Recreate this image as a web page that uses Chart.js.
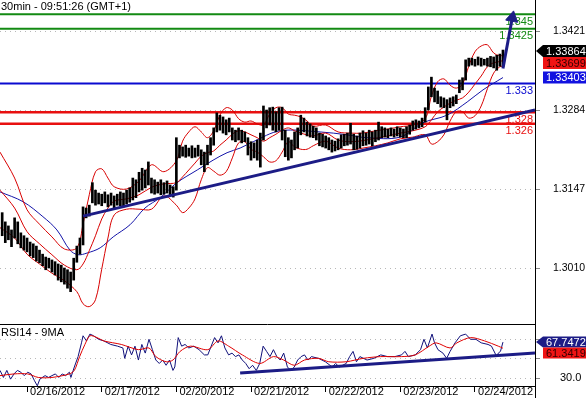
<!DOCTYPE html>
<html>
<head>
<meta charset="utf-8">
<script src="https://cdn.jsdelivr.net/npm/chart.js@4.4.1/dist/chart.umd.min.js"></script>
<style>
  html, body { margin: 0; padding: 0; background: #fff; }
  #wrap { position: relative; width: 586px; height: 398px; overflow: hidden; }
  #priceChart { position: absolute; left: 0; top: 0; }
  #rsiChart { position: absolute; left: 0; top: 324px; }
</style>
</head>
<body>
<div id="wrap">
  <canvas id="priceChart" width="586" height="324"></canvas>
  <canvas id="rsiChart" width="586" height="74"></canvas>
</div>
<script>
const chartTitle = '30min - 09:51:26 (GMT+1)';
const rsiTitle = 'RSI14 - 9MA';

// x = trading hours since 02/16/2012 00:00 (weekend left out)
const xMin = -8.7;
const xMax = 163.3;
const dayHours = [0, 24, 48, 72, 96, 120, 144];
const dayLabels = ['02/16/2012', '02/17/2012', '02/20/2012', '02/21/2012', '02/22/2012', '02/23/2012', '02/24/2012'];

const priceMin = 1.29129;
const priceMax = 1.34748;
const priceTicks = [1.3010, 1.3147, 1.3284, 1.3421];

const rsiMin = 21.6;
const rsiMax = 86.8;
const rsiTicks = [30, 50, 70];
const rsiTickLabels = ['30.0', '', ''];

// hourly bars, first one at hour -8
const firstBarHour = -8;
const barHigh = [
  1.3106, 1.3090, 1.3083, 1.3076, 1.3097, 1.3090, 1.3071, 1.3066,
  1.3062, 1.3055, 1.3052, 1.3048, 1.3041, 1.3034, 1.3029, 1.3027, 1.3024, 1.3021, 1.3017, 1.3015,
  1.3010, 1.3007, 1.3003, 1.3027, 1.3048, 1.3062, 1.3116, 1.3114, 1.3119, 1.3158, 1.3145, 1.3140,
  1.3138, 1.3142, 1.3137, 1.3140, 1.3135, 1.3138, 1.3142, 1.3140, 1.3145, 1.3149, 1.3166, 1.3163,
  1.3176, 1.3183, 1.3180, 1.3194, 1.3166, 1.3163, 1.3159, 1.3163, 1.3158, 1.3161, 1.3154, 1.3151,
  1.3236, 1.3223, 1.3220, 1.3223, 1.3218, 1.3222, 1.3218, 1.3223, 1.3215, 1.3211, 1.3223, 1.3236,
  1.3253, 1.3279, 1.3275, 1.3272, 1.3267, 1.3270, 1.3253, 1.3249, 1.3253, 1.3249, 1.3246, 1.3236,
  1.3229, 1.3227, 1.3232, 1.3244, 1.3291, 1.3284, 1.3288, 1.3289, 1.3281, 1.3288, 1.3289, 1.3249,
  1.3236, 1.3232, 1.3246, 1.3253, 1.3275, 1.3270, 1.3263, 1.3260, 1.3256, 1.3253, 1.3244, 1.3242,
  1.3239, 1.3236, 1.3232, 1.3230, 1.3234, 1.3241, 1.3242, 1.3244, 1.3261, 1.3242, 1.3239, 1.3244,
  1.3248, 1.3244, 1.3249, 1.3246, 1.3249, 1.3263, 1.3255, 1.3253, 1.3251, 1.3253, 1.3251, 1.3255,
  1.3253, 1.3251, 1.3255, 1.3258, 1.3265, 1.3267, 1.3265, 1.3270, 1.3288, 1.3324, 1.3341, 1.3322,
  1.3317, 1.3307, 1.3305, 1.3302, 1.3305, 1.3307, 1.3310, 1.3336, 1.3340, 1.3371, 1.3374, 1.3374,
  1.3372, 1.3376, 1.3374, 1.3372, 1.3374, 1.3377, 1.3376, 1.3379, 1.3381, 1.3388
];
const barLow = [
  1.3066, 1.3054, 1.3059, 1.3047, 1.3062, 1.3052, 1.3045, 1.3041,
  1.3038, 1.3031, 1.3028, 1.3022, 1.3019, 1.3014, 1.3007, 1.3010, 1.3003, 1.2998, 1.2989, 1.2986,
  1.2982, 1.2975, 1.2969, 1.2989, 1.3020, 1.3034, 1.3050, 1.3097, 1.3100, 1.3123, 1.3119, 1.3121,
  1.3118, 1.3123, 1.3116, 1.3119, 1.3114, 1.3119, 1.3118, 1.3116, 1.3121, 1.3124, 1.3128, 1.3132,
  1.3142, 1.3145, 1.3149, 1.3154, 1.3140, 1.3138, 1.3140, 1.3137, 1.3138, 1.3140, 1.3135, 1.3133,
  1.3145, 1.3201, 1.3204, 1.3202, 1.3204, 1.3201, 1.3202, 1.3204, 1.3189, 1.3177, 1.3189, 1.3206,
  1.3223, 1.3246, 1.3249, 1.3244, 1.3241, 1.3246, 1.3232, 1.3229, 1.3232, 1.3227, 1.3229, 1.3206,
  1.3197, 1.3201, 1.3197, 1.3185, 1.3232, 1.3253, 1.3258, 1.3249, 1.3246, 1.3249, 1.3232, 1.3203,
  1.3197, 1.3201, 1.3215, 1.3218, 1.3241, 1.3246, 1.3239, 1.3237, 1.3236, 1.3232, 1.3222, 1.3220,
  1.3218, 1.3215, 1.3211, 1.3213, 1.3215, 1.3218, 1.3222, 1.3223, 1.3225, 1.3215, 1.3216, 1.3218,
  1.3222, 1.3223, 1.3225, 1.3222, 1.3229, 1.3232, 1.3236, 1.3237, 1.3236, 1.3239, 1.3237, 1.3239,
  1.3237, 1.3236, 1.3236, 1.3242, 1.3249, 1.3251, 1.3253, 1.3255, 1.3263, 1.3284, 1.3307, 1.3298,
  1.3295, 1.3289, 1.3288, 1.3267, 1.3288, 1.3291, 1.3295, 1.3314, 1.3319, 1.3336, 1.3360, 1.3362,
  1.3360, 1.3362, 1.3360, 1.3362, 1.3360, 1.3359, 1.3357, 1.3353, 1.3360, 1.3359
];
const lastClose = 1.33864;

// Bollinger bands
const bbHours = [-8.7, -4, 0, 4, 8, 12, 16, 18, 20, 22, 24, 26, 28, 32, 36, 40, 44, 48, 50, 52, 54, 56, 58, 60,
  62, 64, 66, 68, 70, 72, 74, 76, 78, 80, 82, 84, 86, 88, 90, 92, 96, 100, 104, 108, 112, 116, 120, 124,
  128, 130, 132, 134, 136, 138, 140, 142, 144, 146, 148, 150, 152, 153];
const bbUpper = [1.3211, 1.3166, 1.3111, 1.3086, 1.3064, 1.3043, 1.3045, 1.3086, 1.3137, 1.3177, 1.3182, 1.3166,
  1.3151, 1.3147, 1.3161, 1.3189, 1.3177, 1.3196, 1.3230, 1.3246, 1.3255, 1.3246, 1.3236, 1.3248,
  1.3275, 1.3288, 1.3284, 1.3269, 1.3263, 1.3265, 1.3260, 1.3258, 1.3277, 1.3288, 1.3288, 1.3277,
  1.3275, 1.3272, 1.3265, 1.3256, 1.3258, 1.3246, 1.3244, 1.3244, 1.3248, 1.3251, 1.3255, 1.3258,
  1.3269, 1.3308, 1.3333, 1.3338, 1.3327, 1.3322, 1.3329, 1.3360, 1.3385, 1.3395, 1.3397, 1.3383,
  1.3378, 1.3379];
const bbMiddle = [1.3145, 1.3114, 1.3073, 1.3052, 1.3033, 1.3015, 1.3007, 1.3017, 1.3040, 1.3066, 1.3095, 1.3114,
  1.3126, 1.3130, 1.3137, 1.3150, 1.3156, 1.3158, 1.3168, 1.3180, 1.3192, 1.3204, 1.3210, 1.3213,
  1.3223, 1.3232, 1.3242, 1.3248, 1.3246, 1.3241, 1.3236, 1.3230, 1.3236, 1.3242, 1.3249, 1.3253,
  1.3248, 1.3244, 1.3241, 1.3239, 1.3244, 1.3232, 1.3229, 1.3231, 1.3235, 1.3239, 1.3244, 1.3248,
  1.3255, 1.3267, 1.3281, 1.3289, 1.3296, 1.3301, 1.3305, 1.3315, 1.3329, 1.3343, 1.3359, 1.3366,
  1.3368, 1.33699];
const bbLower = [1.3080, 1.3062, 1.3034, 1.3017, 1.3001, 1.2988, 1.2969, 1.2948, 1.2943, 1.2955, 1.3008, 1.3062,
  1.3102, 1.3112, 1.3112, 1.3112, 1.3135, 1.3119, 1.3106, 1.3114, 1.3130, 1.3163, 1.3184, 1.3178,
  1.3171, 1.3177, 1.3201, 1.3227, 1.3229, 1.3216, 1.3211, 1.3203, 1.3194, 1.3196, 1.3211, 1.3229,
  1.3220, 1.3216, 1.3216, 1.3222, 1.3230, 1.3218, 1.3215, 1.3218, 1.3222, 1.3227, 1.3234, 1.3237,
  1.3241, 1.3225, 1.3229, 1.3241, 1.3265, 1.3281, 1.3281, 1.3270, 1.3274, 1.3291, 1.3321, 1.3348,
  1.3359, 1.3360];

// blue moving average
const maHours = [-8.7, -1.3, 5.1, 9.6, 13.8, 16.4, 19.3, 23.5, 27.7, 33.1, 37.9, 42.8, 48.2, 54.7, 59.8, 64.3,
  68.5, 72.7, 81.4, 94.2, 102.9, 109.3, 119.9, 127.3, 135, 141.5, 146.6, 153];
const maValues = [1.3142, 1.3125, 1.3099, 1.3076, 1.3041, 1.3033, 1.3036, 1.3045, 1.3064, 1.3085, 1.3114, 1.3132,
  1.3158, 1.3180, 1.3197, 1.3210, 1.3218, 1.3229, 1.3248, 1.3246, 1.3241, 1.3236, 1.3237, 1.3262,
  1.3275, 1.3298, 1.3319, 1.33403];

// support / resistance levels
const levelValues = [1.345, 1.3425, 1.333, 1.328, 1.326];
const levelLabels = ['1.345', '1.3425', '1.333', '1.328', '1.326'];
const levelColors = ['#138a13', '#138a13', '#0a0ad0', '#e81010', '#e81010'];
const levelWidths = [2, 2, 2, 2.5, 2.5];

const trendHours = [18, 163.3];
const trendValues = [1.3100, 1.3284];
const arrowHours = [153, 156];
const arrowValues = [1.3356, 1.3444];

// RSI 14 and its 9 period average
const rsiHours = [-8.7, -7.6, -6.5, -5.3, -4.2, -3.1, -2.0, -0.9, 0.2, 1.3,
  2.4, 3.3, 4.1, 5.8, 6.9, 8.0, 9.1, 10.2, 11.3, 12.4,
  13.6, 14.1, 15.2, 16.4, 17.5, 18, 19.1, 20.2, 21.4, 23,
  24.7, 26.9, 29.1, 30.8, 31.4, 32.5, 33.6, 34.7, 35.8, 36.9,
  38, 39.2, 40.3, 41.4, 42.5, 43.6, 44.7, 45.8, 46.9, 47.5,
  48.6, 49.7, 50.8, 52, 53.6, 55.3, 57, 58.1, 59.2, 60.3,
  61.4, 62.5, 63.6, 64.8, 65.9, 67, 68.1, 69.2, 70.3, 71.4,
  72.5, 73.7, 74.8, 75.9, 77, 78.1, 79.2, 80.3, 81.4, 82.5,
  83.7, 84.8, 85.9, 87, 88.1, 89.2, 90.3, 91.4, 93.7, 95.9,
  98.1, 99.2, 100.4, 102.6, 103.7, 104.8, 105.9, 107, 109.3, 111.5,
  113.7, 115.9, 118.2, 120.4, 121.5, 122.6, 124.8, 126.5, 127.6, 128.7,
  130.2, 131, 132.1, 133.7, 134.9, 136, 137.6, 139.3, 141, 142.6,
  144.3, 146, 148.2, 149.3, 151, 151.5, 152.2, 153];
const rsiValues = [38.0, 30.6, 38, 28.8, 34.3, 38, 36.1, 32.5, 36.1, 34.3,
  27.1, 21.8, 28.8, 32.5, 30.6, 32.5, 34.3, 30.6, 34.3, 32.5,
  36.1, 30.6, 41.6, 52.5, 67, 74.4, 69, 76.2, 74.4, 70.7,
  69, 65.3, 63.5, 61.6, 50.7, 63.5, 54.3, 63.5, 48.9, 65.3,
  56.2, 70.7, 59.8, 48.9, 45.3, 48.9, 43.4, 48.9, 38, 41.6,
  72.5, 63.5, 65.3, 61.6, 63.5, 59.8, 54.3, 54.3, 63.5, 72.5,
  67, 74.4, 61.6, 54.3, 56.2, 52.5, 54.3, 48.9, 45.3, 39.8,
  43.4, 38, 45.3, 63.5, 58, 52.5, 59.8, 52.5, 48.9, 56.2,
  41.6, 38, 41.6, 48.9, 52.5, 54.3, 48.9, 52.5, 50.7, 47.1,
  41.6, 45.3, 41.6, 45.3, 52.5, 58, 47.1, 52.5, 48.9, 50.7,
  54.3, 52.5, 52.5, 54.3, 58, 52.5, 54.3, 59.8, 70.7, 61.6,
  76.2, 67, 59.8, 56.2, 50.7, 58, 67, 74.4, 76.2, 70.7,
  70.7, 67, 65.3, 63.5, 52.5, 56.2, 58, 67.7472];
const rsiMaHours = [-8.7, -4.2, 0.2, 3.6, 8.0, 13.6, 15.2, 16.9, 18.6, 20.2, 22.5, 24.7, 30.3, 35.8, 39.2,
  41.4, 44.7, 46.9, 49.2, 52.5, 58.1, 61.4, 64.8, 69.2, 74.8, 79.2, 82.5, 85.9, 89.2, 93.7, 97,
  102.6, 108.1, 113.7, 120.4, 124.8, 129.3, 131.5, 136, 138.2, 142.6, 147.1, 151.5, 153];
const rsiMaValues = [32.5, 34.3, 34.3, 30.6, 30.6, 34.3, 38, 52.5, 65.3, 74.4, 72.5, 69, 65.3, 59.8, 61.6,
  52.5, 47.1, 48.9, 58, 63.5, 59.8, 69, 63.5, 54.3, 45.3, 52.5, 48.9, 43.4, 48.9, 50.7, 47.1,
  47.1, 50.7, 52.5, 52.5, 54.3, 63.5, 67, 61.6, 67, 72.5, 69, 63.5, 61.3419];
const rsiTrendHours = [68.5, 163.3];
const rsiTrendValues = [35.3, 56.3];

const FONT = 'Arial, "Liberation Sans", sans-serif';
const NAVY = '#1c1c86';
const AXIS_W = 51;

Chart.defaults.font.family = FONT;
Chart.defaults.font.size = 11;
Chart.defaults.color = '#000';

function pts(xs, ys) {
  return xs.map((x, i) => ({ x: x, y: ys[i] }));
}

function lineSet(data, color, width, order, extra) {
  return Object.assign({
    type: 'line', data: data, borderColor: color, backgroundColor: color,
    borderWidth: width, pointRadius: 0, tension: 0, fill: false, order: order
  }, extra || {});
}

// fixed width right axis, no extra padding above / below the plot
function fitRightAxis(s) {
  s.width = AXIS_W;
  s.paddingTop = 0;
  s.paddingBottom = 0;
}

// value tags to the right of the axis
function drawTags(chart, tags, h, digits) {
  const ctx = chart.ctx;
  const ys = chart.scales.y;
  const left = ys.left;
  const right = chart.width;
  let prevBottom = -Infinity;
  ctx.save();
  ctx.font = '11px ' + FONT;
  ctx.textBaseline = 'middle';
  ctx.textAlign = 'left';
  tags.forEach(t => {
    let cy = ys.getPixelForValue(t.value);
    cy = Math.max(cy, prevBottom + h / 2);
    const top = cy - h / 2;
    prevBottom = cy + h / 2;
    ctx.fillStyle = t.bg;
    ctx.beginPath();
    if (t.pointer) {
      ctx.moveTo(left + 1, cy);
      ctx.lineTo(left + 8, top);
    } else {
      ctx.moveTo(left + 8, top);
    }
    ctx.lineTo(right, top);
    ctx.lineTo(right, top + h);
    ctx.lineTo(left + 8, top + h);
    ctx.closePath();
    ctx.fill();
    ctx.fillStyle = t.fg;
    ctx.fillText(t.value.toFixed(digits), left + 11, cy + 0.5);
  });
  ctx.restore();
}

const priceDecor = {
  id: 'priceDecor',
  beforeDatasetsDraw(chart) {
    const ctx = chart.ctx;
    const ys = chart.scales.y;
    const area = chart.chartArea;
    ctx.save();
    ctx.font = '11px ' + FONT;
    ctx.textAlign = 'right';
    ctx.textBaseline = 'top';
    levelValues.forEach((v, i) => {
      ctx.fillStyle = levelColors[i];
      ctx.fillText(levelLabels[i], area.right - 2, ys.getPixelForValue(v) + 2);
    });
    ctx.restore();
  },
  afterDraw(chart) {
    const ctx = chart.ctx;
    ctx.save();
    ctx.font = '11px ' + FONT;
    ctx.fillStyle = '#000';
    ctx.textAlign = 'left';
    ctx.textBaseline = 'top';
    ctx.fillText(chartTitle, 1, 1);
    ctx.restore();
    drawTags(chart, [
      { value: lastClose, bg: '#000', fg: '#fff', pointer: true },
      { value: bbMiddle[bbMiddle.length - 1], bg: '#f01414', fg: '#300', pointer: false },
      { value: maValues[maValues.length - 1], bg: '#1212e0', fg: '#fff', pointer: false }
    ], 12, 5);
  }
};

const rsiDecor = {
  id: 'rsiDecor',
  afterDraw(chart) {
    const ctx = chart.ctx;
    const area = chart.chartArea;
    ctx.save();
    ctx.strokeStyle = '#000';
    ctx.lineWidth = 1;
    ctx.beginPath();
    ctx.moveTo(0, 0.5);
    ctx.lineTo(area.right, 0.5);
    ctx.moveTo(area.right + 0.5, area.bottom);
    ctx.lineTo(area.right + 0.5, chart.height);
    ctx.stroke();
    ctx.font = '11px ' + FONT;
    ctx.fillStyle = '#000';
    ctx.textAlign = 'left';
    ctx.textBaseline = 'top';
    ctx.fillText(rsiTitle, 1, 3);
    ctx.restore();
    drawTags(chart, [
      { value: rsiValues[rsiValues.length - 1], bg: NAVY, fg: '#fff', pointer: true },
      { value: rsiMaValues[rsiMaValues.length - 1], bg: '#f01414', fg: '#300', pointer: false }
    ], 11, 4);
  }
};

const yGrid = {
  color: '#b8b8b8', lineWidth: 1, drawTicks: true, tickLength: 5,
  tickColor: '#888', tickBorderDash: []
};

// price panel
const priceSets = [
  {
    type: 'bar',
    data: barHigh.map((hi, i) => ({ x: firstBarHour + i, y: [barLow[i], hi] })),
    backgroundColor: '#000', borderWidth: 0, barThickness: 2, order: 3
  },
  lineSet(pts(bbHours, bbUpper), '#d80000', 1, 4, { tension: 0.35 }),
  lineSet(pts(bbHours, bbMiddle), '#d80000', 1, 4, { tension: 0.35 }),
  lineSet(pts(bbHours, bbLower), '#d80000', 1, 4, { tension: 0.35 }),
  lineSet(pts(maHours, maValues), '#1414a8', 1, 4, { tension: 0.35 }),
  lineSet(pts(trendHours, trendValues), NAVY, 3, 1),
  lineSet(pts(arrowHours, arrowValues), NAVY, 3, 0, {
    pointRadius: [0, 7], pointStyle: 'triangle', pointRotation: [0, 10.5],
    pointBackgroundColor: NAVY, pointBorderColor: NAVY, pointBorderWidth: 1
  })
];
levelValues.forEach((v, i) => {
  priceSets.push(lineSet(pts([xMin, xMax], [v, v]), levelColors[i], levelWidths[i], 5));
});

new Chart(document.getElementById('priceChart'), {
  type: 'line',
  data: { datasets: priceSets },
  options: {
    responsive: false, animation: false, devicePixelRatio: 1, events: [],
    layout: { padding: 0, autoPadding: false },
    plugins: { legend: { display: false }, tooltip: { enabled: false } },
    scales: {
      x: { type: 'linear', min: xMin, max: xMax, display: false, offset: false },
      y: {
        position: 'right', min: priceMin, max: priceMax,
        afterBuildTicks: s => { s.ticks = priceTicks.map(v => ({ value: v })); },
        afterFit: fitRightAxis,
        ticks: {
          callback: v => v.toFixed(4), crossAlign: 'center', padding: 13, color: '#000',
          font: { size: 10.5 }
        },
        grid: yGrid,
        border: { display: true, color: '#000', width: 1, dash: [1, 4] }
      }
    }
  },
  plugins: [priceDecor]
});

// RSI panel
new Chart(document.getElementById('rsiChart'), {
  type: 'line',
  data: {
    datasets: [
      lineSet(pts(rsiHours, rsiValues), '#10107a', 1, 2),
      lineSet(pts(rsiMaHours, rsiMaValues), '#e00000', 1, 1, { tension: 0.3 }),
      lineSet(pts(rsiTrendHours, rsiTrendValues), NAVY, 3, 0)
    ]
  },
  options: {
    responsive: false, animation: false, devicePixelRatio: 1, events: [],
    layout: { padding: 0, autoPadding: false },
    plugins: { legend: { display: false }, tooltip: { enabled: false } },
    scales: {
      x: {
        type: 'linear', min: xMin, max: xMax, offset: false,
        afterBuildTicks: s => { s.ticks = dayHours.map(v => ({ value: v })); },
        afterFit: s => { s.height = 12; s.paddingLeft = 0; s.paddingRight = 0; },
        ticks: {
          callback: (v, i) => ' ' + dayLabels[i], align: 'start', maxRotation: 0,
          autoSkip: false, padding: -7, color: '#000'
        },
        grid: { drawOnChartArea: false, drawTicks: true, tickLength: 6, color: '#000', tickColor: '#000' },
        border: { display: true, color: '#000', width: 1 }
      },
      y: {
        position: 'right', min: rsiMin, max: rsiMax,
        afterBuildTicks: s => { s.ticks = rsiTicks.map(v => ({ value: v })); },
        afterFit: fitRightAxis,
        ticks: { callback: (v, i) => rsiTickLabels[i], crossAlign: 'center', padding: 20, color: '#000' },
        grid: yGrid,
        border: { display: true, color: '#000', width: 1, dash: [1, 4] }
      }
    }
  },
  plugins: [rsiDecor]
});
</script>
</body>
</html>
